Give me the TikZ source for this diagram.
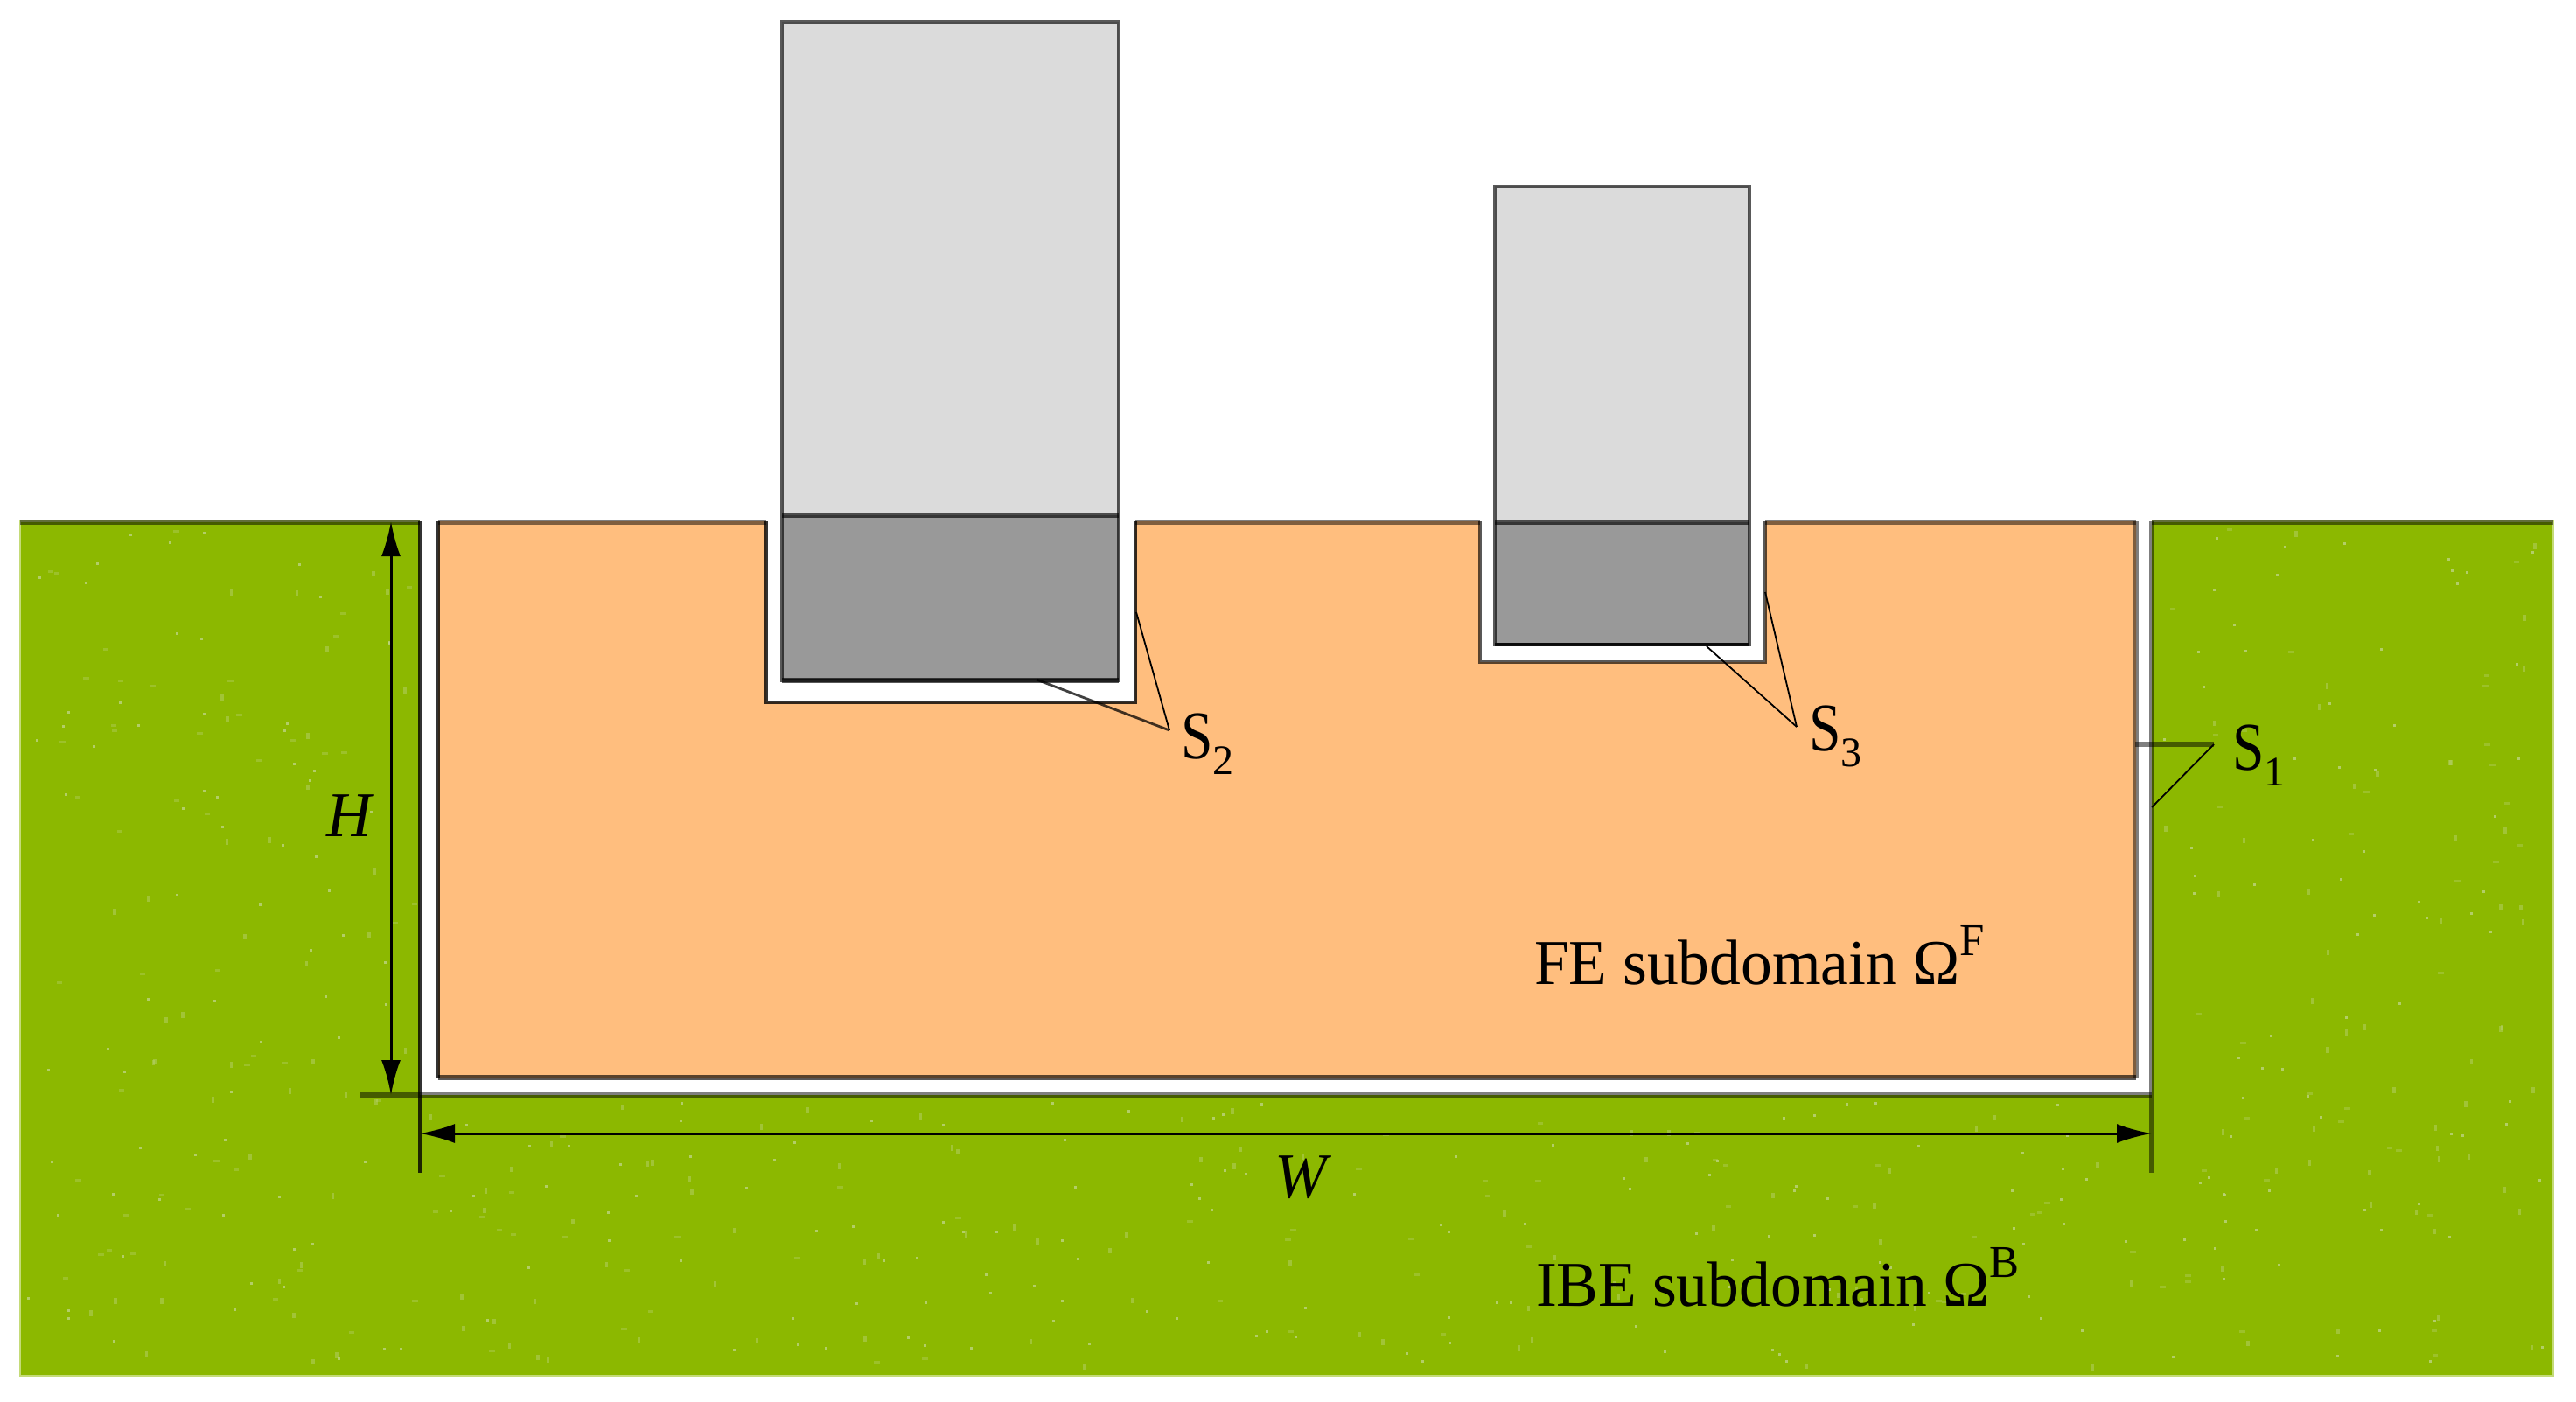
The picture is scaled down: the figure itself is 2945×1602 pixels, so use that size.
\documentclass[tikz,border=0pt]{standalone}
\usepackage{fontspec}
\usetikzlibrary{arrows.meta}
\setmainfont{Liberation Serif}[FakeStretch=0.98]
\newfontfamily\narrowfont{Liberation Serif}[FakeStretch=0.84]
\newfontfamily\plainfont{Liberation Serif}
\definecolor{soil}{HTML}{8CB800}
\definecolor{soilrim}{HTML}{C4DB78}
\definecolor{speck}{HTML}{BBD37A}
\definecolor{fesub}{HTML}{FFBE7E}
\definecolor{upper}{HTML}{DBDBDB}
\definecolor{lower}{HTML}{999999}
\newcommand{\mainsz}{\fontsize{36.5}{40}\selectfont}
\newcommand{\supsz}[1]{\raisebox{16.5pt}{\fontsize{26}{28}\selectfont #1}}
\newcommand{\subsz}[1]{\raisebox{-9pt}{\plainfont\fontsize{24}{26}\selectfont #1}}
\newcommand{\specks}[5]{%
  \foreach \n in {1,...,#5}{%
    \pgfmathsetmacro{\sx}{#1+rnd*(#2-#1-6)}%
    \pgfmathsetmacro{\sy}{#3+rnd*(#4-#3-6)}%
    \pgfmathsetmacro{\sk}{rnd}%
    \ifdim\sk pt<0.5pt
      \fill[speck,opacity=.85] (\sx,\sy) rectangle ++(3,3);
    \else
      \ifdim\sk pt<0.8pt
        \fill[speck,opacity=.45] (\sx,\sy) rectangle ++(3.5,6.5);
      \else
        \fill[speck,opacity=.35] (\sx,\sy) rectangle ++(6.5,3);
      \fi
    \fi
  }}
\tikzset{
  every node/.style={inner sep=0pt,outer sep=0pt,anchor=base west,font=\mainsz,text=black},
  softedge/.style={draw=black,draw opacity=.5,line width=3pt},
  hardedge/.style={draw=black,draw opacity=.8,line width=1.6pt},
  leader/.style={draw=black,line width=.9pt},
  leaderthick/.style={draw=black,draw opacity=.75,line width=1.4pt},
  dimline/.style={draw=black,line width=1.5pt},
  dimhead/.style={{Latex[length=20pt,width=11pt]}-{Latex[length=20pt,width=11pt]}},
}
\begin{document}
\begin{tikzpicture}[x=0.5pt,y=-0.5pt]
\useasboundingbox (0,0) rectangle (2945,1602);
% soil
\fill[soil,draw=soilrim,line width=1.1pt] (23,596) rectangle (2919,1573);
\pgfmathsetseed{4711}
\specks{30}{478}{604}{1568}{160}
\specks{2466}{2914}{604}{1568}{160}
\specks{482}{2460}{1258}{1568}{240}
% excavation and FE subdomain
\fill[white] (480,590) rectangle (2460,1252);
\fill[fesub] (501,596) -- (876,596) -- (876,803) -- (1298,803) -- (1298,596)
  -- (1692,596) -- (1692,757) -- (2018,757) -- (2018,596) -- (2442,596)
  -- (2442,1233) -- (501,1233) -- cycle;
% ground surface
\draw[softedge] (23,596.5) -- (480,596.5);
\draw[softedge] (2460,596.5) -- (2919,596.5);
\draw[softedge] (501,596.5) -- (876,596.5);
\draw[softedge] (1298,596.5) -- (1692,596.5);
\draw[softedge] (2018,596.5) -- (2442,596.5);
% pit walls
\draw[hardedge] (480,596) -- (480,1341);
\draw[softedge] (412,1252) -- (2460,1252);
\draw[softedge] (2460,596) -- (2460,1341);
\draw[hardedge] (501,596) -- (501,1233);
\draw[softedge,draw opacity=.65] (501,1232) -- (2442,1232);
\draw[softedge] (2442,596) -- (2442,1233);
% slots
\draw[hardedge] (876,596) -- (876,803) -- (1298,803) -- (1298,596);
\draw[softedge,draw opacity=.65,line width=2.2pt] (1692,596) -- (1692,757) -- (2018,757) -- (2018,596);
% piles
\fill[upper] (894,25) rectangle (1279,589);
\fill[lower] (894,589) rectangle (1279,778);
\draw[softedge,draw opacity=.65,line width=2.4pt] (894,25) rectangle (1279,778);
\draw[softedge,draw opacity=.65] (894,589) -- (1279,589);
\draw[softedge,draw opacity=.65] (894,778) -- (1279,778);
\fill[upper] (1709,213) rectangle (2000,597);
\fill[lower] (1709,597) rectangle (2000,737);
\draw[softedge,draw opacity=.65,line width=2.4pt] (1709,213) rectangle (2000,737);
\draw[softedge,draw opacity=.65] (1709,597) -- (2000,597);
\draw[hardedge,line width=2.4pt] (1709,737) -- (2000,737);
% named leader coordinates
\coordinate (s2apex) at (1337,835);
\coordinate (s2wall) at (1299,700);
\coordinate (s2base) at (1185,777);
\coordinate (s3apex) at (2054,831);
\coordinate (s3wall) at (2018,677);
\coordinate (s3base) at (1951,739);
\coordinate (s1apex) at (2531,851);
\coordinate (s1in) at (2441,851);
\coordinate (s1out) at (2460,923);
\draw[leader] (s2wall) -- (s2apex);
\draw[leaderthick] (s2base) -- (s2apex);
\draw[leader] (s3wall) -- (s3apex);
\draw[leader] (s3base) -- (s3apex);
\draw[softedge] (s1in) -- (s1apex);
\draw[leader] (s1apex) -- (s1out);
% dimensions
\coordinate (htop) at (447,596);
\coordinate (hbot) at (447,1252);
\coordinate (wl) at (480,1296);
\coordinate (wr) at (2460,1296);
\draw[dimline,dimhead] (htop) -- (hbot);
\draw[dimline,dimhead] (wl) -- (wr);
% labels
\node (lblH) at (373,956) {\itshape H};
\node (lblW) at (1457,1369) {\itshape W};
\node (lblS2) at (1350,867) {\fontsize{39}{40}\narrowfont S\subsz{2}};
\node (lblS3) at (2068,858) {\fontsize{39}{40}\narrowfont S\subsz{3}};
\node (lblS1) at (2552,880) {\fontsize{39}{40}\narrowfont S\subsz{1}};
\node (lblFE) at (1754,1125) {FE subdomain Ω\supsz{F}};
\node (lblBE) at (1756,1493) {IBE subdomain Ω\supsz{B}};
\end{tikzpicture}
\end{document}
